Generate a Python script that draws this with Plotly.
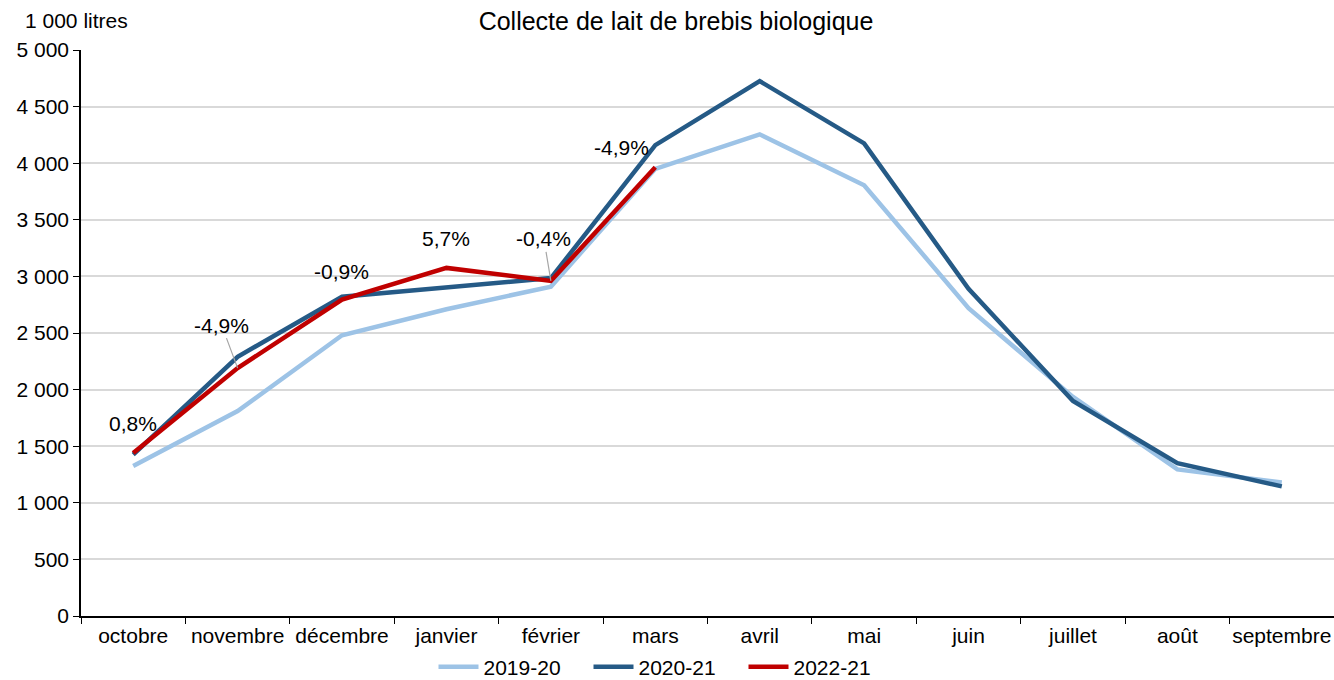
import plotly.graph_objects as go

months = ["octobre", "novembre", "décembre", "janvier", "février", "mars",
          "avril", "mai", "juin", "juillet", "août", "septembre"]
s2019 = [1325, 1810, 2480, 2710, 2910, 3950, 4255, 3805, 2720, 1935, 1295, 1180]
s2020 = [1425, 2290, 2820, 2905, 2985, 4160, 4725, 4175, 2890, 1900, 1350, 1145]
s2022 = [1440, 2190, 2795, 3075, 2960, 3965]
pct_labels = ["0,8%", "-4,9%", "-0,9%", "5,7%", "-0,4%", "-4,9%"]
y_ticks = [0, 500, 1000, 1500, 2000, 2500, 3000, 3500, 4000, 4500, 5000]
y_tick_text = ["0", "500", "1 000", "1 500", "2 000", "2 500", "3 000",
               "3 500", "4 000", "4 500", "5 000"]

FONT = "Liberation Sans, Arial, sans-serif"
FS = 21

fig = go.Figure()
fig.add_trace(go.Scatter(x=months, y=s2019, mode="lines", name="2019-20",
                         line=dict(color="#9DC3E6", width=4.5)))
fig.add_trace(go.Scatter(x=months, y=s2020, mode="lines", name="2020-21",
                         line=dict(color="#255A86", width=4.5)))
fig.add_trace(go.Scatter(x=months[:len(s2022)], y=s2022, mode="lines", name="2022-21",
                         line=dict(color="#C00000", width=4.5)))

# label placements (pixel offsets relative to the red points)
offsets = [(0, 29, False), (-16, -43, True), (-1, 28, False), (0, 29, False),
           (-7, -42, True), (-34, 20, False)]
for i, (lab, (dx, dy, arrow)) in enumerate(zip(pct_labels, offsets)):
    if arrow:
        fig.add_annotation(x=months[i], y=s2022[i], text=lab, showarrow=True,
                           arrowhead=0, arrowwidth=1.2, arrowcolor="#a6a6a6",
                           ax=dx, ay=dy, standoff=0,
                           font=dict(family=FONT, size=FS, color="#000"))
    else:
        fig.add_annotation(x=months[i], y=s2022[i], text=lab, showarrow=False,
                           xshift=dx, yshift=dy,
                           font=dict(family=FONT, size=FS, color="#000"))

fig.add_annotation(xref="paper", yref="paper", x=0, y=1 + 30/566,
                   xanchor="left", yanchor="middle", text="1 000 litres",
                   showarrow=False, xshift=-58,
                   font=dict(family=FONT, size=FS, color="#000"))

fig.update_layout(
    width=1334, height=680,
    margin=dict(l=81, r=0, t=50, b=64),
    paper_bgcolor="white", plot_bgcolor="white",
    title=dict(text="Collecte de lait de brebis biologique", x=676/1334, xanchor="center",
               xref="container", y=1 - 21/680, yanchor="middle", yref="container",
               font=dict(family=FONT, size=25, color="#000")),
    font=dict(family=FONT, size=FS, color="#000"),
    showlegend=True,
    legend=dict(orientation="h", x=666/1334, xanchor="center", xref="container",
                y=1 - 667/680, yanchor="middle", yref="container",
                font=dict(family=FONT, size=21, color="#000"),
                itemwidth=40, tracegroupgap=0, bgcolor="rgba(0,0,0,0)",
                entrywidth=100, entrywidthmode="pixels",
                borderwidth=0),
    xaxis=dict(type="category", categoryorder="array", categoryarray=months,
               showline=True, linecolor="#000", linewidth=1.5,
               ticks="outside", tickson="boundaries", ticklen=6, tickcolor="#000",
               showgrid=False, range=[-0.5, 11.5], tickangle=0, automargin=False,
               tickfont=dict(family=FONT, size=FS, color="#000")),
    yaxis=dict(range=[0, 5000], tickvals=y_ticks, ticktext=y_tick_text,
               showline=True, linecolor="#000", linewidth=1.5,
               ticks="outside", ticklen=6, tickcolor="#000", automargin=False,
               showgrid=True, gridcolor="#d9d9d9", gridwidth=1.5,
               zeroline=False,
               tickfont=dict(family=FONT, size=FS, color="#000")),
)

fig.write_html("out.html", config={"displayModeBar": False},
               post_script="document.body.style.margin='0px';document.body.style.overflow='hidden';")
